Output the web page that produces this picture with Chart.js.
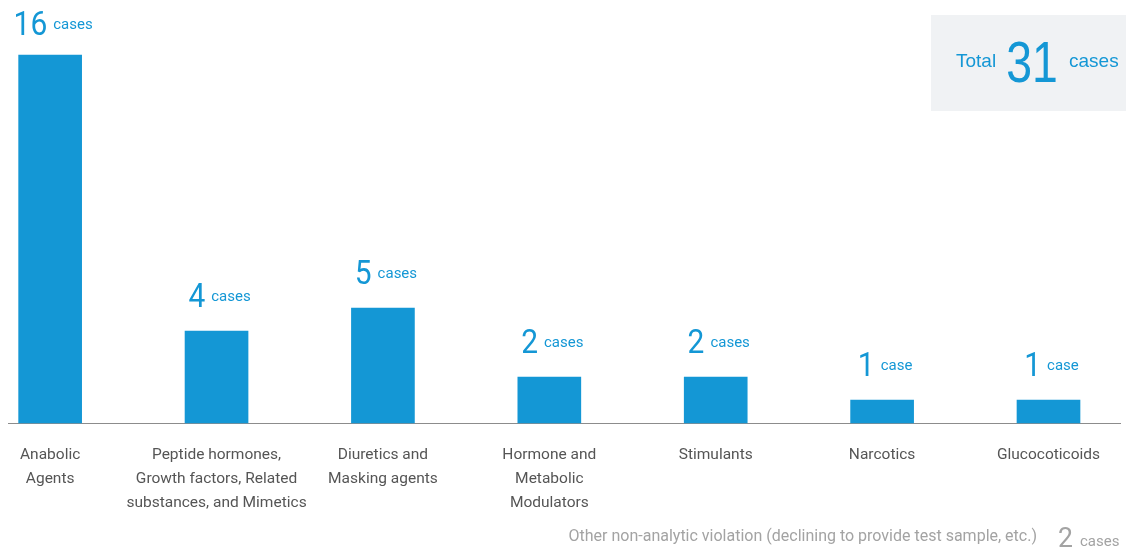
<!DOCTYPE html>
<html>
<head>
<meta charset="utf-8">
<script src="https://cdn.jsdelivr.net/npm/chart.js@4/dist/chart.umd.min.js"></script>
<style>
  html, body { margin: 0; padding: 0; background: #ffffff; }
  #wrap { position: relative; width: 1126px; height: 549px; }
  canvas { display: block; }
</style>
</head>
<body>
<div id="wrap"><canvas id="c" width="1126" height="549"></canvas></div>
<script>
const categories = [
  ["Anabolic", "Agents"],
  ["Peptide hormones,", "Growth factors, Related", "substances, and Mimetics"],
  ["Diuretics and", "Masking agents"],
  ["Hormone and", "Metabolic", "Modulators"],
  ["Stimulants"],
  ["Narcotics"],
  ["Glucocoticoids"]
];
const caseCounts = [16, 4, 5, 2, 2, 1, 1];
const caseUnits = ["cases", "cases", "cases", "cases", "cases", "case", "case"];
const totalLabel = ["Total", "31", "cases"];
const otherNote = "Other non-analytic violation (declining to provide test sample, etc.)";
const otherCount = "2";
const otherUnit = "cases";

const BLUE = '#1497d5';
const LABEL_FONT = 'Roboto, "DejaVu Sans", sans-serif';

function scaledText(ctx, text, x, y, sx) {
  ctx.save();
  ctx.translate(x, y);
  ctx.scale(sx, 1);
  ctx.fillText(text, 0, 0);
  ctx.restore();
}

const decorPlugin = {
  id: 'decor',
  beforeDatasetsDraw(chart) {
    const ctx = chart.ctx;
    const y0 = Math.round(chart.scales.y.getPixelForValue(0)) + 0.5;
    ctx.save();
    ctx.strokeStyle = '#8c8c8c';
    ctx.lineWidth = 1.2;
    ctx.beginPath();
    ctx.moveTo(8, y0);
    ctx.lineTo(1121, y0);
    ctx.stroke();
    ctx.restore();
  },
  afterDatasetsDraw(chart) {
    const ctx = chart.ctx;
    const meta = chart.getDatasetMeta(0);
    const NSX = 0.88;
    ctx.save();
    ctx.textBaseline = 'alphabetic';
    ctx.textAlign = 'left';
    meta.data.forEach((bar, i) => {
      const num = String(caseCounts[i]);
      const unit = caseUnits[i];
      ctx.font = '400 34px ' + LABEL_FONT;
      const nw = ctx.measureText(num).width * NSX;
      ctx.font = '400 15px ' + LABEL_FONT;
      const uw = ctx.measureText(unit).width;
      const gap = 6;
      const total = nw + gap + uw;
      const left = bar.x - total / 2 + 3;
      const base = Math.max(bar.y - 24, 35);
      ctx.fillStyle = BLUE;
      ctx.font = '400 34px ' + LABEL_FONT;
      scaledText(ctx, num, left, base, NSX);
      ctx.font = '400 15px ' + LABEL_FONT;
      ctx.fillText(unit, left + nw + gap, base - 6);
    });

    // Total box
    ctx.fillStyle = '#f0f2f4';
    ctx.fillRect(931, 15, 195, 96);
    ctx.fillStyle = BLUE;
    ctx.font = '19px "Liberation Sans", Arial, sans-serif';
    ctx.textAlign = 'left';
    ctx.fillText(totalLabel[0], 956, 67);
    ctx.fillText(totalLabel[2], 1069, 67);
    ctx.font = '58px "Liberation Sans", Arial, sans-serif';
    const tw = ctx.measureText(totalLabel[1]).width * 0.8;
    scaledText(ctx, totalLabel[1], 1032 - tw / 2, 82, 0.8);

    // Footnote
    ctx.fillStyle = '#a3a3a3';
    ctx.textAlign = 'right';
    ctx.font = '16px ' + LABEL_FONT;
    ctx.fillText(otherNote, 1037, 541);
    ctx.textAlign = 'left';
    ctx.font = '28px ' + LABEL_FONT;
    scaledText(ctx, otherCount, 1058, 547, 0.95);
    ctx.font = '15px ' + LABEL_FONT;
    ctx.fillText(otherUnit, 1080, 546);
    ctx.restore();
  }
};

new Chart(document.getElementById('c'), {
  type: 'bar',
  data: {
    labels: categories,
    datasets: [{
      data: caseCounts,
      backgroundColor: BLUE,
      borderWidth: 0,
      barThickness: 63,
      clip: false
    }]
  },
  options: {
    responsive: false,
    animation: false,
    events: [],
    layout: { padding: { top: 9, left: 49.5, right: 77.5, bottom: 0 } },
    plugins: { legend: { display: false }, tooltip: { enabled: false } },
    scales: {
      x: {
        type: 'category',
        offset: false,
        grid: { display: false, drawTicks: false },
        border: { display: false },
        ticks: {
          autoSkip: false,
          maxRotation: 0,
          minRotation: 0,
          padding: 20,
          color: '#555555',
          font: { family: LABEL_FONT, size: 15.5, lineHeight: '24px' }
        },
        afterFit(scale) { scale.height = 126; }
      },
      y: {
        display: false,
        min: 0,
        max: 18
      }
    }
  },
  plugins: [decorPlugin]
});
</script>
</body>
</html>
